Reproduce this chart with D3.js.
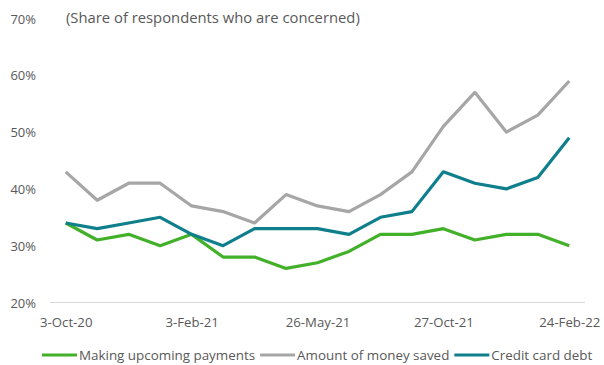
<!DOCTYPE html>
<html>
<head>
<meta charset="utf-8">
<script src="https://cdn.jsdelivr.net/npm/d3@7"></script>
<style>
  html, body { margin: 0; padding: 0; background: #fff; }
  svg text { font-family: "Open Sans", "Noto Sans", sans-serif; fill: #595959; }
</style>
</head>
<body>
<svg id="chart" width="604" height="365"></svg>
<script>
// Survey waves (17), labelled every fourth wave on the axis
const waveCount = 17;
const tickIndex = [0, 4, 8, 12, 16];
const tickLabels = ["3-Oct-20", "3-Feb-21", "26-May-21", "27-Oct-21", "24-Feb-22"];

// Share of respondents who are concerned, %
const upcomingPayments = [34, 31, 32, 30, 32, 28, 28, 26, 27, 29, 32, 32, 33, 31, 32, 32, 30];
const moneySaved       = [43, 38, 41, 41, 37, 36, 34, 39, 37, 36, 39, 43, 51, 57, 50, 53, 59];
const creditCardDebt   = [34, 33, 34, 35, 32, 30, 33, 33, 33, 32, 35, 36, 43, 41, 40, 42, 49];

const yTicks = [20, 30, 40, 50, 60, 70];

const series = [
  { name: "Making upcoming payments", values: upcomingPayments, color: "#43b02a" },
  { name: "Amount of money saved",    values: moneySaved,       color: "#a6a6a6" },
  { name: "Credit card debt",         values: creditCardDebt,   color: "#0e7f8b" }
];

const svg = d3.select("#chart");
const plotLeft = 50, plotRight = 585, plotTop = 18.5, plotBottom = 302.5;

const x = d3.scalePoint()
  .domain(d3.range(waveCount))
  .range([plotLeft, plotRight])
  .padding(0.5);

const y = d3.scaleLinear().domain([20, 70]).range([plotBottom, plotTop]);

// Y axis: labels only
const yAxis = svg.append("g")
  .attr("transform", `translate(${plotLeft - 14},0)`)
  .call(d3.axisLeft(y).tickValues(yTicks).tickSize(0).tickFormat(d => d + "%"));
yAxis.select(".domain").remove();
yAxis.selectAll("text").attr("x", 0).attr("dy", "0.35em").style("font-size", "13px");

// X axis baseline and labels
const xAxis = svg.append("g")
  .attr("transform", `translate(0,${plotBottom})`)
  .call(d3.axisBottom(x).tickValues(tickIndex).tickSize(0)
    .tickFormat(d => tickLabels[tickIndex.indexOf(d)]));
xAxis.select(".domain").attr("stroke", "#d9d9d9").attr("stroke-width", 1.2)
  .attr("d", `M${plotLeft},0H${plotRight}`);
xAxis.selectAll("text").attr("y", 20).attr("dy", "0.35em").style("font-size", "13.2px");

// Subtitle
svg.append("text")
  .attr("x", 66).attr("y", 18).attr("dy", "0.35em")
  .style("font-size", "14.8px")
  .text("(Share of respondents who are concerned)");

// Lines
const line = d3.line()
  .x((d, i) => x(i))
  .y(d => y(d));

svg.append("g").selectAll("path")
  .data(series)
  .join("path")
  .attr("fill", "none")
  .attr("stroke", d => d.color)
  .attr("stroke-width", 3.2)
  .attr("stroke-linejoin", "round")
  .attr("d", d => line(d.values));

// Legend
const legend = svg.append("g").attr("transform", "translate(0,355)");
let lx = 42;
series.forEach(s => {
  legend.append("line")
    .attr("x1", lx).attr("x2", lx + 35)
    .attr("y1", 0).attr("y2", 0)
    .attr("stroke", s.color).attr("stroke-width", 3.2);
  const t = legend.append("text")
    .attr("x", lx + 37).attr("y", 0).attr("dy", "0.35em")
    .style("font-size", "13.4px")
    .text(s.name);
  lx += 37 + t.node().getComputedTextLength() + 5;
});
</script>
</body>
</html>
